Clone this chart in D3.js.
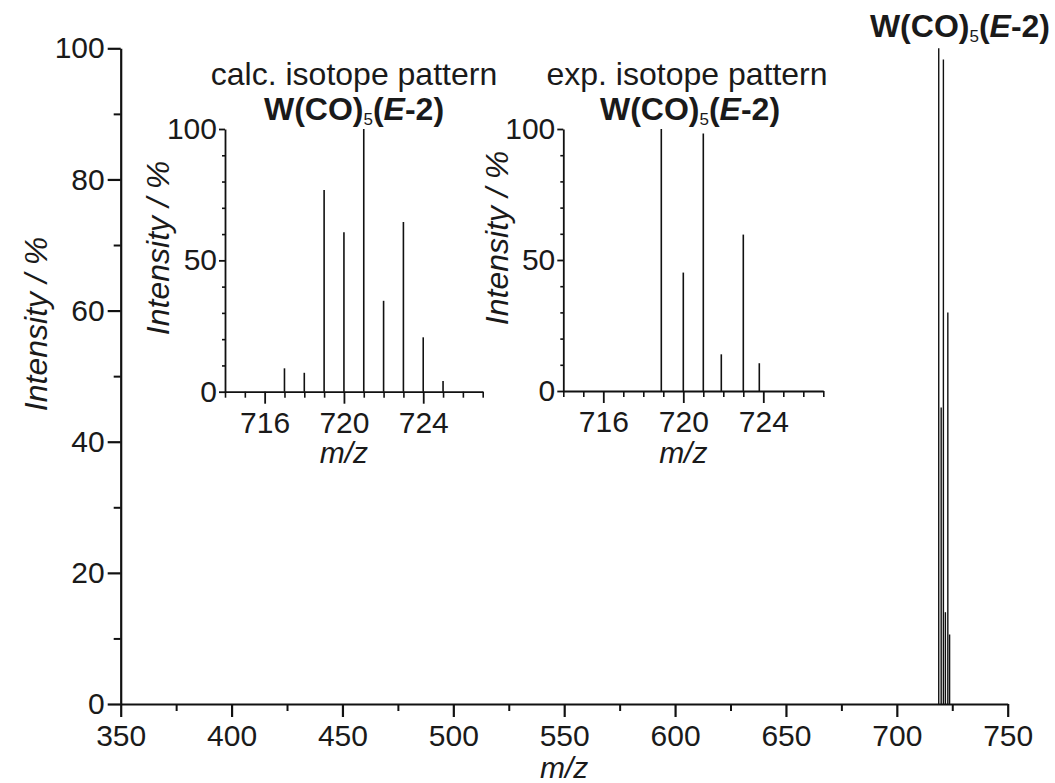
<!DOCTYPE html>
<html>
<head>
<meta charset="utf-8">
<script src="https://cdn.jsdelivr.net/npm/d3@7"></script>
<style>
  html, body { margin: 0; padding: 0; background: #fff; }
  svg { display: block; }
  text { font-family: "Liberation Sans", Arial, Helvetica, sans-serif; fill: #1a1a1a; }
</style>
</head>
<body>
<svg id="chart" width="1055" height="783"></svg>
<script>
// Measured spectrum of W(CO)5(E-2): m/z and relative intensity (%)
const expMz        = [718.9, 720.0, 721.0, 721.9, 723.0, 723.8];
const expIntensity = [100, 45.2, 98.3, 14.0, 59.7, 10.6];

// Calculated isotope pattern of W(CO)5(E-2)
const calcMz        = [717, 718, 719, 720, 721, 722, 723, 724, 725];
const calcIntensity = [8.9, 7.2, 76.8, 60.7, 100, 34.6, 64.6, 20.7, 4.1];

// Axis ticks
const mainXTicks  = [350, 400, 450, 500, 550, 600, 650, 700, 750];
const mainXMinor  = [375, 425, 475, 525, 575, 625, 675, 725];
const mainYTicks  = [0, 20, 40, 60, 80, 100];
const mainYMinor  = [10, 30, 50, 70, 90];
const insetXTicks = [716, 720, 724];
const insetXMinor = [714, 715, 717, 718, 719, 721, 722, 723, 725, 726, 727];
const insetYTicks = [0, 50, 100];
const insetYMinor = [10, 20, 30, 40, 60, 70, 80, 90];

const svg = d3.select("#chart");
const FS = 30;     // tick labels, m/z
const FL = 32;     // intensity labels, titles

function styleAxis(g, width) {
  g.select(".domain").attr("stroke", "#111").attr("stroke-width", width);
  g.selectAll(".tick line").attr("stroke", "#111").attr("stroke-width", width);
  g.selectAll(".tick text").attr("font-size", FS).attr("fill", "#1a1a1a")
    .style("font-family", "'Liberation Sans', Arial, sans-serif");
}

function sticks(g, mz, inten, x, y, width) {
  g.selectAll("line.stick")
    .data(mz.map((m, i) => ({ m, v: inten[i] })))
    .join("line")
    .attr("class", "stick")
    .attr("x1", d => x(d.m)).attr("x2", d => x(d.m))
    .attr("y1", y(0)).attr("y2", d => y(d.v))
    .attr("stroke", "#111")
    .attr("stroke-width", width);
}

function formula(parent, x, y, anchor) {
  const t = parent.append("text")
    .attr("x", x).attr("y", y)
    .attr("text-anchor", anchor)
    .attr("font-size", FL)
    .attr("font-weight", "bold")
    .attr("fill", "#2a2a2a");
  t.append("tspan").text("W(CO)");
  t.append("tspan").attr("font-size", 17).attr("font-weight", "normal").attr("dy", 5).text("5");
  t.append("tspan").attr("dy", -5).text("(");
  t.append("tspan").attr("font-style", "italic").text("E");
  t.append("tspan").text("-2)");
  return t;
}

// ---------- main spectrum ----------
const x = d3.scaleLinear().domain([350, 750]).range([120.7, 1007.7]);
const y = d3.scaleLinear().domain([0, 100]).range([704, 48.3]);

const main = svg.append("g");
sticks(main, expMz, expIntensity, x, y, 1.4);

const gxMinor = main.append("g").attr("transform", `translate(0,${y(0)})`)
  .call(d3.axisBottom(x).tickValues(mainXMinor).tickSize(7).tickFormat(""));
styleAxis(gxMinor, 2);
gxMinor.select(".domain").remove();
const gx = main.append("g").attr("transform", `translate(0,${y(0)})`)
  .call(d3.axisBottom(x).tickValues(mainXTicks).tickSize(13).tickSizeOuter(0).tickPadding(8));
styleAxis(gx, 2.2);

const gyMinor = main.append("g").attr("transform", `translate(${x(350)},0)`)
  .call(d3.axisLeft(y).tickValues(mainYMinor).tickSize(7).tickFormat(""));
styleAxis(gyMinor, 2);
gyMinor.select(".domain").remove();
const gy = main.append("g").attr("transform", `translate(${x(350)},0)`)
  .call(d3.axisLeft(y).tickValues(mainYTicks).tickSize(13).tickSizeOuter(0).tickPadding(3));
styleAxis(gy, 2.2);

main.append("text")
  .attr("x", x(550)).attr("y", 778)
  .attr("text-anchor", "middle").attr("font-size", FS).attr("font-style", "italic")
  .text("m/z");
main.append("text")
  .attr("transform", "translate(47,324) rotate(-90)")
  .attr("text-anchor", "middle").attr("font-size", FL).attr("font-style", "italic")
  .text("Intensity / %");

formula(svg, 1050, 37, "end");

// ---------- inset panels ----------
function inset(opts) {
  const ix = d3.scaleLinear().domain([714, 727]).range([opts.x0, opts.x1]);
  const iy = d3.scaleLinear().domain([0, 100]).range([opts.y0, opts.y1]);
  const g = svg.append("g");

  sticks(g, opts.mz, opts.inten, ix, iy, 1.6);

  const xm = g.append("g").attr("transform", `translate(0,${iy(0)})`)
    .call(d3.axisBottom(ix).tickValues(insetXMinor).tickSize(6).tickFormat(""));
  styleAxis(xm, 1.6); xm.select(".domain").remove();
  const xa = g.append("g").attr("transform", `translate(0,${iy(0)})`)
    .call(d3.axisBottom(ix).tickValues(insetXTicks).tickSize(12).tickSizeOuter(0).tickPadding(8));
  styleAxis(xa, 1.8);

  const ym = g.append("g").attr("transform", `translate(${ix(714)},0)`)
    .call(d3.axisLeft(iy).tickValues(insetYMinor).tickSize(3).tickFormat(""));
  styleAxis(ym, 1.6); ym.select(".domain").remove();
  const ya = g.append("g").attr("transform", `translate(${ix(714)},0)`)
    .call(d3.axisLeft(iy).tickValues(insetYTicks).tickSize(6).tickSizeOuter(0).tickPadding(2));
  styleAxis(ya, 1.8);

  g.append("text")
    .attr("x", ix(720)).attr("y", 463)
    .attr("text-anchor", "middle").attr("font-size", FS).attr("font-style", "italic")
    .text("m/z");
  g.append("text")
    .attr("transform", `translate(${opts.ylabX},${opts.ylabY}) rotate(-90)`)
    .attr("text-anchor", "middle").attr("font-size", FL).attr("font-style", "italic")
    .text("Intensity / %");

  g.append("text")
    .attr("x", opts.titleX).attr("y", 85)
    .attr("text-anchor", "middle").attr("font-size", FL).attr("fill", "#2a2a2a")
    .text(opts.title);
  formula(g, opts.formulaX, 120, "middle");
}

inset({
  x0: 225, x1: 482.7, y0: 391.7, y1: 129,
  mz: calcMz, inten: calcIntensity,
  ylabX: 169, ylabY: 248,
  title: "calc. isotope pattern", titleX: 354, formulaX: 354
});
inset({
  x0: 563.3, x1: 823.3, y0: 391, y1: 129,
  mz: expMz, inten: expIntensity,
  ylabX: 508, ylabY: 238,
  title: "exp. isotope pattern", titleX: 687, formulaX: 690
});
</script>
</body>
</html>
